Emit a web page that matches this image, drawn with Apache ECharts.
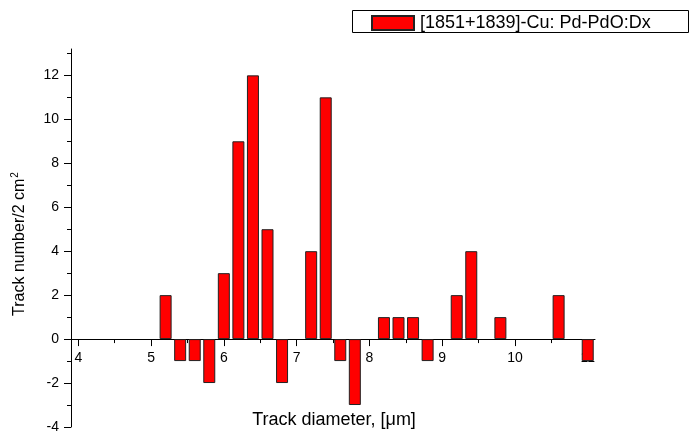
<!DOCTYPE html>
<html><head><meta charset="utf-8">
<script src="https://cdn.jsdelivr.net/npm/echarts@6/dist/echarts.min.js"></script>
<style>html,body{margin:0;padding:0;background:#fff}#c{width:690px;height:437px}</style>
</head><body><div id="c"></div>
<script>
const diameters = [5.2, 5.4, 5.6, 5.8, 6.0, 6.2, 6.4, 6.6, 6.8, 7.2, 7.4, 7.6, 7.8, 8.2, 8.4, 8.6, 8.8, 9.2, 9.4, 9.8, 10.6, 11.0];
const counts    = [2, -1, -1, -2, 3, 9, 12, 5, -2, 4, 11, -1, -3, 1, 1, 1, -1, 2, 4, 1, 2, -1];
const xMajorTicks = [4, 5, 6, 7, 8, 9, 10, 11];
const xMinorTicks = [4.5, 5.5, 6.5, 7.5, 8.5, 9.5, 10.5];
const yMajorTicks = [-4, -2, 0, 2, 4, 6, 8, 10, 12];
const yMinorTicks = [-3, -1, 1, 3, 5, 7, 9, 11, 13];
const seriesName = '[1851+1839]-Cu: Pd-PdO:Dx';

const FONT = 'Liberation Sans, Arial, sans-serif';
const chart = echarts.init(document.getElementById('c'));
const data = diameters.map((d, i) => [d, counts[i]]);
const Y_MIN = -4, Y_MAX = 13.2, GRID_TOP = 49, GRID_BOTTOM_PX = 427;
const zeroOffset = -(GRID_BOTTOM_PX - GRID_TOP) * (0 - Y_MIN) / (Y_MAX - Y_MIN);

chart.setOption({
  animation: false,
  grid: {left: 71, right: 95, top: GRID_TOP, bottom: 437 - GRID_BOTTOM_PX, outerBoundsMode: 'none', containLabel: false},
  legend: {
    data: [{name: seriesName, icon: 'rect'}], left: 371, top: 14, itemWidth: 42, itemHeight: 14, itemGap: 5,
    textStyle: {fontFamily: FONT, fontSize: 18, color: '#000', padding: [0, 0, 0, 1]}, padding: 0
  },
  graphic: [
    {type: 'rect', shape: {x: 352.5, y: 10.5, width: 336, height: 22}, style: {fill: 'none', stroke: '#000', lineWidth: 1}, z: 1},
    {type: 'text', z: 10, style: {text: 'Track diameter, [\u03bcm]', x: 334, y: 420, align: 'center', verticalAlign: 'middle', fontSize: 18, fontFamily: FONT, fill: '#000'}},
    {type: 'text', z: 10, x: 20, y: 244, rotation: Math.PI / 2,
     style: {text: '{a|Track number/2 cm}{s|2}', align: 'center', verticalAlign: 'middle',
       rich: {a: {fontFamily: FONT, fontSize: 16, fill: '#000', color: '#000'}, s: {fontFamily: FONT, fontSize: 10, fill: '#000', color: '#000', verticalAlign: 'top', padding: [0, 0, 10, 1]}}}}
  ],
  xAxis: [
    {type: 'value', min: 3.9, max: 11.1, position: 'bottom', offset: zeroOffset, splitLine: {show: false},
     axisLine: {onZero: false, lineStyle: {color: '#000', width: 1}},
     axisTick: {show: true, inside: false, length: 7, customValues: xMajorTicks, lineStyle: {color: '#000'}},
     axisLabel: {customValues: xMajorTicks, margin: 12, color: '#000', fontFamily: FONT, fontSize: 14}},
    {type: 'value', min: 3.9, max: 11.1, position: 'bottom', offset: zeroOffset, splitLine: {show: false},
     axisLine: {show: false, onZero: false},
     axisTick: {show: true, inside: false, length: 4, customValues: xMinorTicks, lineStyle: {color: '#000'}},
     axisLabel: {show: false}}
  ],
  yAxis: [
    {type: 'value', min: Y_MIN, max: Y_MAX, splitLine: {show: false},
     axisLine: {show: true, onZero: false, lineStyle: {color: '#000', width: 1}},
     axisTick: {show: true, length: 7, customValues: yMajorTicks, lineStyle: {color: '#000'}},
     axisLabel: {customValues: yMajorTicks, margin: 12, color: '#000', fontFamily: FONT, fontSize: 14}},
    {type: 'value', min: Y_MIN, max: Y_MAX, position: 'left', splitLine: {show: false},
     axisLine: {show: false, onZero: false},
     axisTick: {show: true, length: 4, customValues: yMinorTicks, lineStyle: {color: '#000'}},
     axisLabel: {show: false}}
  ],
  series: [{
    name: seriesName, type: 'bar', xAxisIndex: 0, yAxisIndex: 0, data: data, barWidth: 12,
    itemStyle: {color: '#ff0000', borderColor: '#222', borderWidth: 1}
  }]
});
</script></body></html>
